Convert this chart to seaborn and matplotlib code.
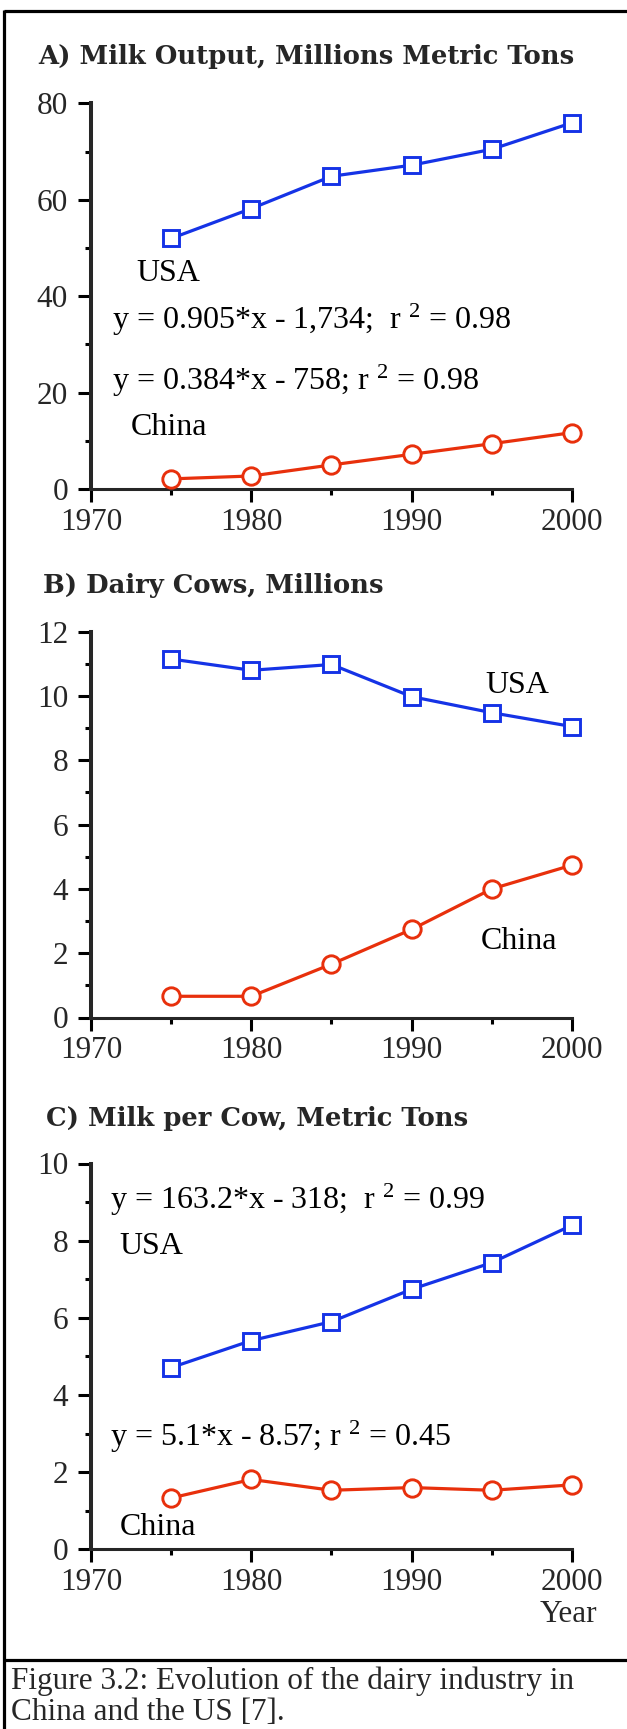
import numpy as np
import pandas as pd
import matplotlib
matplotlib.use("Agg")
import matplotlib.pyplot as plt
from matplotlib.ticker import MultipleLocator
from matplotlib.lines import Line2D
import seaborn as sns

# ---- data -------------------------------------------------------------
years = [1975, 1980, 1985, 1990, 1995, 2000]

milk_usa = [52.0, 58.2, 64.9, 67.2, 70.5, 76.0]
milk_china = [2.1, 2.7, 5.0, 7.2, 9.4, 11.7]

cows_usa = [11.15, 10.80, 10.98, 9.98, 9.48, 9.05]
cows_china = [0.66, 0.66, 1.66, 2.74, 4.00, 4.74]

yield_usa = [4.71, 5.41, 5.90, 6.74, 7.43, 8.40]
yield_china = [1.33, 1.81, 1.53, 1.60, 1.53, 1.67]

panel_titles = ["A) Milk Output, Millions Metric Tons",
                "B) Dairy Cows, Millions",
                "C) Milk per Cow, Metric Tons"]
caption_lines = ["Figure 3.2: Evolution of the dairy industry in",
                 "China and the US [7]."]

# ---- style ------------------------------------------------------------
sns.set_style("ticks")
plt.rcParams["font.family"] = ["Liberation Serif", "DejaVu Serif"]
plt.rcParams["mathtext.fontset"] = "custom"
plt.rcParams["mathtext.rm"] = "Liberation Serif"
plt.rcParams["mathtext.it"] = "Liberation Serif:italic"
plt.rcParams["mathtext.bf"] = "Liberation Serif:bold"

BLUE = "#1533E6"
RED = "#E8300C"
FS = 22.5
FS_NOTE = 23

W, H = 627, 1729
fig = plt.figure(figsize=(W / 100, H / 100), dpi=100)


def frac_box(left, top, right, bottom):
    return [left / W, 1 - bottom / H, (right - left) / W, (bottom - top) / H]


axes_boxes = [frac_box(91, 103.5, 572, 489.0),
              frac_box(91, 631.7, 572, 1017.5),
              frac_box(91, 1163.5, 572, 1549.3)]


def draw_panel(ax, usa, china, ymax, ymajor):
    df = pd.DataFrame({"year": years, "usa": usa, "china": china})
    sns.lineplot(data=df, x="year", y="usa", ax=ax, color=BLUE, lw=2.3,
                 marker="s", markersize=11.5, markerfacecolor="white",
                 markeredgecolor=BLUE, markeredgewidth=2.1, zorder=3,
                 clip_on=False)
    sns.lineplot(data=df, x="year", y="china", ax=ax, color=RED, lw=2.3,
                 marker="o", markersize=12.5, markerfacecolor="white",
                 markeredgecolor=RED, markeredgewidth=2.1, zorder=3,
                 clip_on=False)
    ax.set_xlim(1970, 2000)
    ax.set_ylim(0, ymax)
    ax.xaxis.set_major_locator(MultipleLocator(10))
    ax.xaxis.set_minor_locator(MultipleLocator(5))
    ax.yaxis.set_major_locator(MultipleLocator(ymajor))
    ax.yaxis.set_minor_locator(MultipleLocator(ymajor / 2))
    ax.set_xlabel("")
    ax.set_ylabel("")
    for s in ("top", "right"):
        ax.spines[s].set_visible(False)
    ax.spines["left"].set_linewidth(2.9)
    ax.spines["bottom"].set_linewidth(2.2)
    ax.spines["left"].set_capstyle("projecting")
    ax.tick_params(which="major", length=9.5, width=2.2, color="black",
                   labelsize=FS, direction="out")
    ax.tick_params(which="minor", length=4.5, width=2.2, color="black",
                   direction="out")
    ax.tick_params(axis="y", which="major", pad=7)
    ax.tick_params(axis="x", which="major", pad=4)
    ax.set_facecolor("white")
    ax.grid(False)


def label(ax, x, y, s):
    ax.text(x, y, s, fontsize=FS_NOTE, ha="left", va="center", color="black")


# Panel A: total milk output
axA = fig.add_axes(axes_boxes[0])
draw_panel(axA, milk_usa, milk_china, 80, 20)
label(axA, 1972.8, 44.7, "USA")
label(axA, 1971.3, 35.1, "y = 0.905*x - 1,734;  r $^{2}$ = 0.98")
label(axA, 1971.3, 22.4, "y = 0.384*x - 758; r $^{2}$ = 0.98")
label(axA, 1972.5, 12.8, "China")

# Panel B: dairy cow herd
axB = fig.add_axes(axes_boxes[1])
draw_panel(axB, cows_usa, cows_china, 12, 2)
label(axB, 1994.6, 10.33, "USA")
label(axB, 1994.3, 2.35, "China")

# Panel C: yield per cow
axC = fig.add_axes(axes_boxes[2])
draw_panel(axC, yield_usa, yield_china, 10, 2)
label(axC, 1971.2, 9.05, "y = 163.2*x - 318;  r $^{2}$ = 0.99")
label(axC, 1971.75, 7.85, "USA")
label(axC, 1971.2, 2.92, "y = 5.1*x - 8.57; r $^{2}$ = 0.45")
label(axC, 1971.8, 0.57, "China")

# Panel headings
title_pos = [(38, 64), (43, 593), (46.5, 1126)]
for (tx, ty), t in zip(title_pos, panel_titles):
    fig.text(tx / W, 1 - ty / H, t, fontsize=18.6, fontweight="bold",
             family=["DejaVu Serif"], ha="left", va="baseline")

fig.text(568 / W, 1 - 1615 / H, "Year", fontsize=FS, ha="center",
         va="center")

# Frame and caption box
frame_kw = dict(color="black", lw=2.3, transform=fig.transFigure,
                solid_capstyle="butt")
fig.add_artist(Line2D([4 / W, 1], [1 - 11 / H] * 2, **frame_kw))
fig.add_artist(Line2D([4 / W] * 2, [1 - 9.5 / H, 0], **frame_kw))
fig.add_artist(Line2D([4 / W, 1], [1 - 1660 / H] * 2, **frame_kw))

for i, line in enumerate(caption_lines):
    fig.text(11 / W, 1 - (1689 + 30.5 * i) / H, line, fontsize=FS,
             ha="left", va="baseline")

fig.savefig("out.png", dpi=100, facecolor="white")
